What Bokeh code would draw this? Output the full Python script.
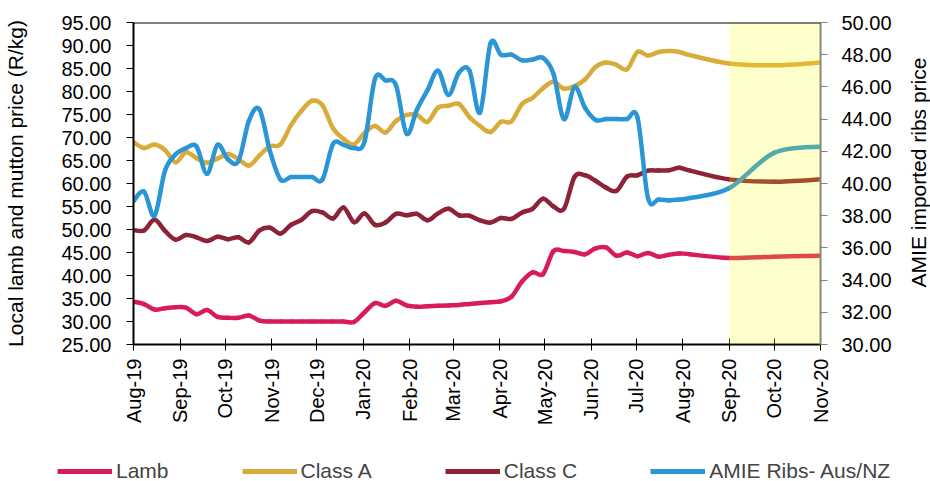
import math
import numpy as np
import pandas as pd
from bokeh.plotting import figure
from bokeh.layouts import column, row
from bokeh.models import (Range1d, LinearAxis, FixedTicker, NumeralTickFormatter,
                          DatetimeTickFormatter, BoxAnnotation, Span, Legend, LegendItem, Label)
from bokeh.embed import file_html
from bokeh.resources import INLINE

# ---------------- data ----------------
weekly_start = "2019-08-01"
n_weekly = 54
forecast_dates = ["2020-09-01", "2020-10-01", "2020-11-01"]
month_ticks = ["2019-08-01", "2019-09-01", "2019-10-01", "2019-11-01", "2019-12-01",
               "2020-01-01", "2020-02-01", "2020-03-01", "2020-04-01", "2020-05-01",
               "2020-06-01", "2020-07-01", "2020-08-01", "2020-09-01", "2020-10-01",
               "2020-11-01"]

lamb = [34.3, 33.8, 32.6, 32.9, 33.1, 33.0, 31.6, 32.5, 31.0, 30.8, 30.8, 31.3, 30.2, 30.0,
        30.0, 30.0, 30.0, 30.0, 30.0, 30.0, 30.0, 29.9, 32.0, 34.0, 33.4, 34.5, 33.5, 33.2,
        33.3, 33.4, 33.5, 33.6, 33.8, 34.0, 34.2, 34.4, 35.4, 38.7, 40.7, 40.3, 45.3, 45.3,
        45.1, 44.6, 45.9, 46.1, 44.3, 45.0, 44.2, 44.9, 44.1, 44.5, 44.8, 44.6,
        43.8, 44.1, 44.3]
class_a = [69.0, 67.7, 68.5, 67.3, 64.6, 66.8, 65.5, 64.5, 65.4, 66.4, 65.3, 63.9, 66.1, 68.1,
           68.5, 72.7, 75.8, 78.0, 77.0, 72.0, 69.7, 68.5, 71.0, 72.5, 71.1, 73.6, 74.9, 74.9,
           73.4, 76.5, 76.9, 77.3, 74.4, 72.5, 71.2, 73.4, 73.5, 77.3, 78.6, 80.7, 82.1, 80.6,
           81.2, 82.6, 85.3, 86.3, 85.8, 84.8, 88.6, 87.8, 88.6, 88.8, 88.6, 87.9,
           86.1, 85.7, 86.3]
class_c = [49.9, 49.8, 52.1, 49.7, 47.8, 48.8, 48.3, 47.5, 48.4, 47.9, 48.3, 47.2, 49.8, 50.4,
           49.1, 51.0, 52.1, 54.0, 53.7, 52.4, 54.8, 51.6, 53.5, 51.0, 51.5, 53.4, 53.1, 53.4,
           52.0, 53.5, 54.5, 53.1, 53.0, 52.0, 51.5, 52.5, 52.3, 53.7, 54.5, 56.7, 55.0, 54.5,
           61.4, 61.8, 60.6, 59.1, 58.4, 61.5, 61.8, 62.8, 62.8, 62.9, 63.4, 62.8,
           60.9, 60.4, 60.9]
amie = [38.9, 39.5, 38.0, 40.8, 41.8, 42.2, 42.3, 40.6, 42.4, 41.5, 41.4, 43.9, 44.6, 42.0,
        40.25, 40.4, 40.4, 40.4, 40.25, 42.45, 42.4, 42.2, 42.6, 46.5, 46.4, 46.1, 43.1, 44.6,
        45.8, 47.0, 45.5, 46.9, 47.0, 44.4, 48.7, 48.0, 48.0, 47.65, 47.7, 47.8, 46.8, 44.0,
        46.0, 44.7, 43.95, 44.0, 44.0, 44.0, 44.1, 39.1, 39.0, 38.95, 39.0, 39.1,
        39.7, 41.9, 42.3]

labels = ["Lamb", "Class A", "Class C", "AMIE Ribs- Aus/NZ"]
colors = ["#D81B60", "#D9AB3B", "#8E2237", "#2B96D6"]
left_title = "Local lamb and mutton price (R/kg)"
right_title = "AMIE imported ribs price"

# ---------------- helpers ----------------
def to_ms(d):
    return pd.Timestamp(d).value / 1e6

dates = list(pd.date_range(weekly_start, periods=n_weekly, freq="7D")) + \
        [pd.Timestamp(d) for d in forecast_dates]
xs = np.array([d.value / 1e6 for d in dates])

def smooth_segments(x, y):
    x = np.asarray(x, float)
    y = np.asarray(y, float)
    n = len(x)
    i = np.arange(n - 1)
    im = np.maximum(i - 1, 0)
    ip2 = np.minimum(i + 2, n - 1)
    return dict(
        x0=x[i], y0=y[i], x1=x[i + 1], y1=y[i + 1],
        cx0=x[i] + (x[i + 1] - x[im]) / 6.0, cy0=y[i] + (y[i + 1] - y[im]) / 6.0,
        cx1=x[i + 1] - (x[ip2] - x[i]) / 6.0, cy1=y[i + 1] - (y[ip2] - y[i]) / 6.0,
    )

FONT = "Liberation Sans"
FS = "20px"
FS_TITLE = "21px"
TOTAL_W = 930
MAIN_W, MAIN_H = 906, 447
LEG_H = 34
SIDE_W = TOTAL_W - MAIN_W
FRAME_TOP, FRAME_H = 22, 322

p = figure(width=MAIN_W, height=MAIN_H, output_backend="svg", toolbar_location=None,
           x_range=Range1d(to_ms("2019-08-01"), to_ms("2020-11-01")),
           y_range=Range1d(25, 95),
           frame_width=687, frame_height=FRAME_H,
           min_border_left=133, min_border_right=MAIN_W - 133 - 687, min_border_top=FRAME_TOP,
           min_border_bottom=MAIN_H - FRAME_TOP - FRAME_H,
           x_axis_type=None, y_axis_type=None)
p.extra_y_ranges = {"right": Range1d(30, 50)}
p.outline_line_color = None
p.background_fill_color = "white"
p.border_fill_color = "white"

# axes
left_ticks = list(range(25, 96, 5))
right_ticks = list(range(30, 51, 2))

yl = LinearAxis(ticker=FixedTicker(ticks=left_ticks),
                formatter=NumeralTickFormatter(format="0.00"),
                axis_label=left_title)
yr = LinearAxis(y_range_name="right", ticker=FixedTicker(ticks=right_ticks),
                formatter=NumeralTickFormatter(format="0.00"))
fmt = "%b-%y"
xa = LinearAxis(ticker=FixedTicker(ticks=[to_ms(d) for d in month_ticks]),
                formatter=DatetimeTickFormatter(days=fmt, months=fmt, years=fmt, hours=fmt,
                                                hourmin=fmt, minutes=fmt, minsec=fmt,
                                                seconds=fmt, milliseconds=fmt,
                                                microseconds=fmt))
for ax in (yl, yr, xa):
    ax.major_label_text_font = FONT
    ax.major_label_text_font_size = FS
    ax.major_label_text_color = "black"
    ax.axis_label_text_font = FONT
    ax.axis_label_text_font_size = FS_TITLE
    ax.axis_label_text_font_style = "normal"
    ax.axis_label_text_color = "black"
    ax.minor_tick_line_color = None
    ax.axis_line_width = 2

yl.axis_line_color = "black"
yl.major_tick_line_color = "black"
yl.major_tick_in = 0
yl.major_tick_out = 7
yl.major_label_standoff = 15
yl.axis_label_standoff = 31

yr.axis_line_color = "#808080"
yr.major_tick_line_color = "#808080"
yr.major_tick_in = 0
yr.major_tick_out = 7
yr.major_label_standoff = 14

xa.axis_line_color = "black"
xa.major_tick_line_color = "black"
xa.major_tick_in = 6
xa.major_tick_out = 6
xa.major_label_standoff = 8
xa.major_label_orientation = math.pi / 2

p.add_layout(yl, "left")
p.add_layout(yr, "right")
p.add_layout(xa, "below")

# gridlines
p.ygrid.ticker = FixedTicker(ticks=left_ticks)
p.ygrid.grid_line_color = "#444444"
p.ygrid.grid_line_dash = "2 1"
p.ygrid.grid_line_width = 1
p.xgrid.grid_line_color = None

# series
series = [(lamb, "default"), (class_a, "default"), (class_c, "default"), (amie, "right")]
for (vals, rng), col in zip(series, colors):
    seg = smooth_segments(xs, vals)
    kw = dict(line_color=col, line_width=4.5, line_cap="round")
    if rng == "right":
        p.bezier(**seg, y_range_name="right", **kw)
    else:
        p.bezier(**seg, **kw)

# forecast band (drawn over lines, semi-transparent)
p.add_layout(BoxAnnotation(left=to_ms("2020-09-01"), right=to_ms("2020-11-01"),
                           fill_color="#FFFF00", fill_alpha=0.2, line_color=None))

# top border
p.add_layout(Span(location=95, dimension="width", line_color="black", line_width=2))

# ---------------- right-hand title strip (frame is aligned with the main frame) -------
ps = figure(width=SIDE_W, height=MAIN_H, output_backend="svg", toolbar_location=None,
            x_range=Range1d(0, 1), y_range=Range1d(0, 1),
            x_axis_location=None, y_axis_location=None,
            min_border=0, min_border_left=0, min_border_right=0,
            min_border_top=0, min_border_bottom=0)
ps.outline_line_color = None
ps.grid.visible = False
ps.add_layout(Label(x=SIDE_W / 2, y=FRAME_H / 2 + 11, x_units="screen", y_units="screen",
                    text=right_title, angle=math.pi / 2, text_align="center",
                    text_baseline="middle", text_font=FONT, text_font_size=FS_TITLE,
                    text_color="black"))

# ---------------- legend strip ----------------
pl = figure(width=TOTAL_W, height=LEG_H, output_backend="svg", toolbar_location=None,
            x_range=Range1d(0, 1), y_range=Range1d(0, 1),
            x_axis_location=None, y_axis_location=None,
            min_border=0, min_border_left=0, min_border_right=0,
            min_border_top=0, min_border_bottom=0)
pl.outline_line_color = None
pl.grid.visible = False
# legend sample renderers: their points lie outside the strip's ranges, so only the
# legend swatches are visible
dummies = [pl.line(x=[5, 6], y=[5, 6], line_color=c, line_width=5) for c in colors]
legend = Legend(items=[LegendItem(label=l, renderers=[r]) for l, r in zip(labels, dummies)],
                orientation="horizontal", location=(57, -2),
                glyph_width=55, glyph_height=20, label_standoff=4, spacing=73,
                padding=0, margin=0, border_line_color=None, background_fill_alpha=0,
                label_text_font=FONT, label_text_font_size=FS_TITLE)
pl.add_layout(legend, "center")

layout = column(row(p, ps, spacing=0), pl, spacing=0)
open("out.html", "w").write(file_html(layout, INLINE))
